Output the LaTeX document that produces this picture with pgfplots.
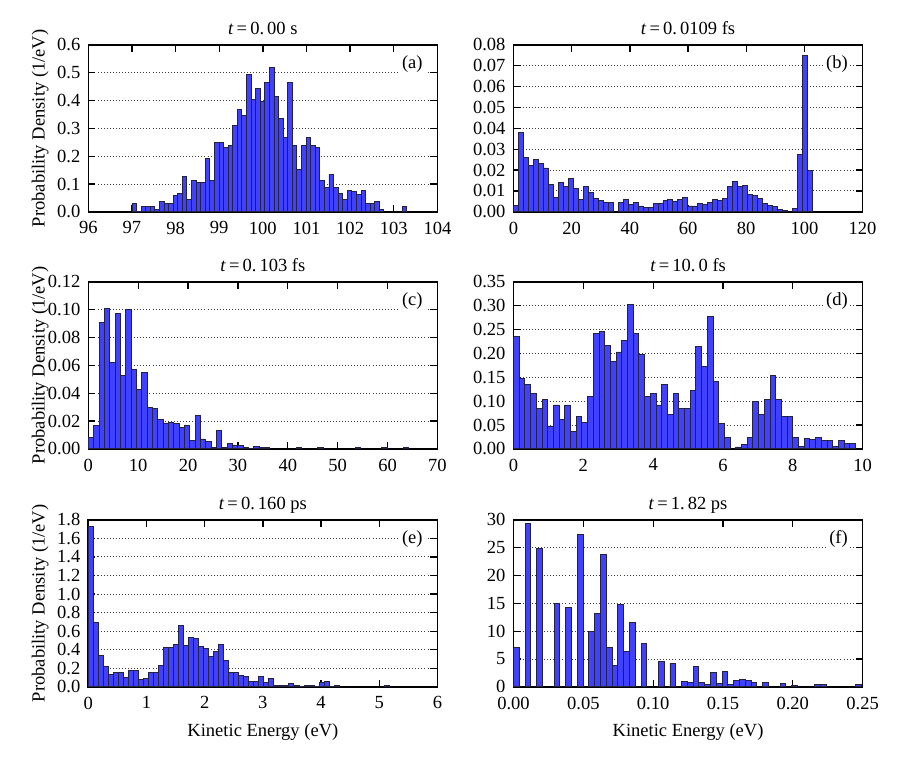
\documentclass[border=0pt]{standalone}
\usepackage{fontspec}
\setmainfont{Liberation Serif}
\usepackage{pgfplots}
\usepackage{pgfplotstable}
\pgfplotsset{compat=1.18}
\definecolor{barblue}{RGB}{64,64,255}
\definecolor{baredge}{RGB}{35,35,65}

\pgfplotstableread{
k v
0 0.029
1 0
2 0.018
3 0.018
4 0.018
5 0.010
6 0.036
7 0.029
8 0.029
9 0.058
10 0.066
11 0.126
12 0.046
13 0.114
14 0.105
15 0.105
16 0.190
17 0.114
18 0.250
19 0.250
20 0.230
21 0.240
22 0.310
23 0.366
24 0.347
25 0.494
26 0.405
27 0.444
28 0.398
29 0.464
30 0.519
31 0.416
32 0.337
33 0.267
34 0.464
35 0.240
36 0.152
37 0.240
38 0.267
39 0.240
40 0.230
41 0.114
42 0.086
43 0.134
44 0.086
45 0.066
46 0.046
47 0.076
48 0.072
49 0.064
50 0.076
51 0.029
52 0.029
53 0.036
54 0.010
59 0.018
}\tabA

\pgfplotstableread{
k v
0 0.003
1 0.038
2 0.026
3 0.022
4 0.025
5 0.023
6 0.021
7 0.013
8 0.007
9 0.014
10 0.012
11 0.016
12 0.011
13 0.006
14 0.012
15 0.0095
16 0.0063
17 0.0055
18 0.0043
19 0.0046
21 0.0046
22 0.006
23 0.0036
24 0.0046
25 0.0028
26 0.0022
27 0.0022
28 0.0038
29 0.0038
30 0.0054
31 0.006
32 0.005
33 0.006
34 0.007
35 0.0028
36 0.0028
37 0.004
38 0.0035
39 0.0046
40 0.006
41 0.0054
42 0.0062
43 0.012
44 0.0145
45 0.012
46 0.0126
47 0.0084
48 0.0077
49 0.0063
50 0.004
51 0.0032
52 0.0024
53 0.0013
54 0.0008
56 0.0016
57 0.0273
58 0.0747
59 0.020
}\tabB

\pgfplotstableread{
k v
0 0.0081
1 0.017
2 0.091
3 0.101
4 0.062
5 0.097
6 0.053
7 0.100
8 0.057
9 0.043
10 0.055
11 0.030
12 0.029
13 0.021
14 0.0186
15 0.019
16 0.018
17 0.0157
18 0.0167
19 0.006
20 0.0238
21 0.0071
22 0.0052
23 0.001
24 0.0129
25 0.001
26 0.0038
27 0.0021
28 0.0024
29 0.001
30 0.0005
31 0.0014
32 0.001
33 0.0007
39 0.0007
43 0.0007
50 0.0007
55 0.0007
59 0.0007
}\tabC

\pgfplotstableread{
k v
0 0.235
1 0.147
2 0.135
3 0.116
4 0.085
5 0.103
6 0.048
7 0.092
8 0.061
9 0.092
10 0.036
11 0.067
12 0.055
13 0.110
14 0.241
15 0.246
16 0.217
17 0.184
18 0.203
19 0.227
20 0.302
21 0.241
22 0.198
23 0.110
24 0.117
25 0.092
26 0.135
27 0.073
28 0.117
29 0.085
30 0.085
31 0.123
32 0.215
33 0.172
34 0.278
35 0.141
36 0.054
37 0.024
39 0.004
40 0.010
41 0.024
42 0.099
43 0.073
44 0.104
45 0.153
46 0.104
47 0.067
48 0.067
49 0.024
50 0.005
51 0.022
52 0.019
53 0.023
54 0.017
55 0.017
56 0.005
57 0.017
58 0.012
59 0.012
}\tabD

\pgfplotstableread{
k v
0 1.73
1 0.69
2 0.34
3 0.22
4 0.13
5 0.15
6 0.15
7 0.103
8 0.174
9 0.174
10 0.078
11 0.089
12 0.16
13 0.16
14 0.231
15 0.427
16 0.427
17 0.459
18 0.662
19 0.441
20 0.534
21 0.523
22 0.434
23 0.416
24 0.327
25 0.381
26 0.452
27 0.285
28 0.15
29 0.15
30 0.125
31 0.107
32 0.057
33 0.06
34 0.107
35 0.043
36 0.089
37 0.018
38 0.018
39 0.018
40 0.032
41 0.018
42 0.007
43 0.018
44 0.018
45 0.007
46 0.046
47 0.06
48 0.004
49 0.011
59 0.018
}\tabE

\pgfplotstableread{
k v
0 7.0
2 29.4
4 24.8
7 15.0
9 14.3
11 27.3
13 10.0
14 13.1
15 23.7
16 7.0
17 3.8
18 14.8
19 6.3
20 11.6
22 7.8
25 4.5
27 4.2
29 1.0
30 0.8
31 3.7
32 0.8
33 0.5
34 2.5
35 0.65
36 2.7
37 0.5
38 1.06
39 1.4
40 1.06
41 0.8
43 0.8
46 0.65
48 0.24
52 0.5
53 0.35
59 0.5
}\tabF

\pgfplotsset{
  hist/.style={
    scale only axis, width=188.5pt, height=90.2pt,
    anchor=south west,
    axis line style={line width=0.9pt, black},
    tick align=inside, major tick length=3.8pt,
    tick style={black, line width=0.7pt},
    ymajorgrids,
    major grid style={black!75, line width=0.5pt, dash pattern=on 0.55pt off 1.1pt},
    scaled ticks=false,
    /pgf/number format/assume math mode=true,
    tick label style={font=\fontsize{10}{12}\selectfont},
    xticklabel style={yshift=-1.8pt},
    yticklabel style={xshift=-0.8pt},
    label style={font=\fontsize{10}{12}\selectfont},
    every axis title shift=0pt,
    title style={font=\fontsize{10}{12}\selectfont, at={(0.5,1)}, anchor=base, yshift=5.4pt},
    every axis y label/.style={at={(axis description cs:-0.138,0.5)}, rotate=90, anchor=center},
    every axis x label/.style={at={(axis description cs:0.5,0)}, anchor=center, yshift=-24.5pt},
    ymin=0, clip=true,
  },
  bars/.style={ybar, bar shift=0pt, fill=barblue, draw=baredge, line width=0.5pt},
  yf1/.style={yticklabel style={/pgf/number format/.cd, fixed, fixed zerofill, precision=1}},
  yf2/.style={yticklabel style={/pgf/number format/.cd, fixed, fixed zerofill, precision=2}},
}
\tikzset{plab/.style={anchor=east, fill=white, inner sep=1.2pt, font=\fontsize{10}{12}\selectfont}}

\begin{document}
\begin{tikzpicture}
\path[use as bounding box] (0,0) rectangle (486pt,410.9pt);

% (a)
\begin{axis}[hist, yf1, at={(47.7pt,296.5pt)},
  xmin=96, xmax=104, ymax=0.6,
  xtick={96,97,98,99,100,101,102,103,104},
  ytick={0,0.1,0.2,0.3,0.4,0.5,0.6},
  title={\textit{t}\,=\,0.\,00 s},
  ylabel={Probability Density (1/eV)}]
\addplot[bars, bar width=0.105] table[x expr={97+(\thisrow{k}+0.5)*0.105}, y=v] {\tabA};
\node[plab] at (rel axis cs:0.965,0.885) {(a)};
\end{axis}

% (b)
\begin{axis}[hist, yf2, at={(277.3pt,296.5pt)},
  xmin=0, xmax=120, ymax=0.08,
  xtick={0,20,40,60,80,100,120},
  ytick={0,0.01,0.02,0.03,0.04,0.05,0.06,0.07,0.08},
  title={\textit{t}\,=\,0.\,0109 fs}]
\addplot[bars, bar width=1.7125] table[x expr={(\thisrow{k}+0.5)*1.7125}, y=v] {\tabB};
\node[plab] at (rel axis cs:0.965,0.885) {(b)};
\end{axis}

% (c)
\begin{axis}[hist, yf2, at={(47.7pt,168.5pt)},
  xmin=0, xmax=70, ymax=0.12,
  xtick={0,10,20,30,40,50,60,70},
  ytick={0,0.02,0.04,0.06,0.08,0.10,0.12},
  title={\textit{t}\,=\,0.\,103 fs},
  ylabel={Probability Density (1/eV)}]
\addplot[bars, bar width=1.07] table[x expr={(\thisrow{k}+0.5)*1.07}, y=v] {\tabC};
\node[plab] at (rel axis cs:0.965,0.885) {(c)};
\end{axis}

% (d)
\begin{axis}[hist, yf2, at={(277.3pt,168.5pt)},
  xmin=0, xmax=10, ymax=0.35,
  xtick={0,2,4,6,8,10},
  ytick={0,0.05,0.10,0.15,0.20,0.25,0.30,0.35},
  title={\textit{t}\,=\,10.\,0 fs}]
\addplot[bars, bar width=0.1633] table[x expr={(\thisrow{k}+0.5)*0.1633}, y=v] {\tabD};
\node[plab] at (rel axis cs:0.965,0.885) {(d)};
\end{axis}

% (e)
\begin{axis}[hist, yf1, at={(47.7pt,40.0pt)},
  xmin=0, xmax=6, ymax=1.8,
  xtick={0,1,2,3,4,5,6},
  ytick={0,0.2,0.4,0.6,0.8,1.0,1.2,1.4,1.6,1.8},
  title={\textit{t}\,=\,0.\,160 ps},
  ylabel={Probability Density (1/eV)},
  xlabel={Kinetic Energy (eV)}]
\addplot[bars, bar width=0.0862] table[x expr={(\thisrow{k}+0.5)*0.0862}, y=v] {\tabE};
\node[plab] at (rel axis cs:0.965,0.885) {(e)};
\end{axis}

% (f)
\begin{axis}[hist, at={(277.3pt,40.0pt)},
  xmin=0, xmax=0.25, ymax=30,
  xtick={0,0.05,0.10,0.15,0.20,0.25},
  ytick={0,5,10,15,20,25,30},
  xticklabel style={/pgf/number format/.cd, fixed, fixed zerofill, precision=2},
  title={\textit{t}\,=\,1.\,82 ps},
  xlabel={Kinetic Energy (eV)}]
\addplot[bars, bar width=0.00415] table[x expr={(\thisrow{k}+0.5)*0.00415}, y=v] {\tabF};
\node[plab] at (rel axis cs:0.965,0.885) {(f)};
\end{axis}
\end{tikzpicture}
\end{document}
